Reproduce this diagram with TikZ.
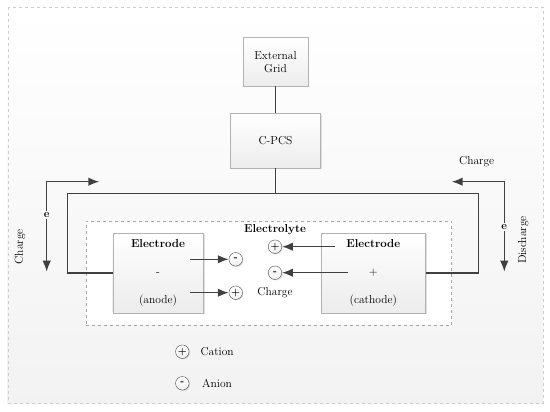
\documentclass[tikz,border=0pt]{standalone}
\usepackage{tikz}
\usetikzlibrary{shapes,arrows.meta,positioning,shadows}
\tikzset{
  block/.style={
    rectangle,
    draw=gray!60,
    top color=white,
    bottom color=gray!15,
    drop shadow={opacity=0.25,shadow xshift=1.2pt,shadow yshift=-1.2pt},
    align=center,
    font=\fontsize{11.5}{13}\selectfont
  },
  ion/.style={
    circle,
    draw=black!70,
    inner sep=0pt,
    minimum size=13.5pt,
    top color=white,
    bottom color=gray!12,
    drop shadow={opacity=0.25,shadow xshift=1pt,shadow yshift=-1pt},
    font=\fontsize{10}{10}\selectfont\bfseries
  },
  lbl/.style={
    font=\fontsize{11.5}{13}\selectfont
  },
  wire/.style={
    draw=black!75,
    line width=1.5pt
  },
  arrow/.style={
    wire,
    -{Latex[length=11pt,width=8.5pt]}
  },
  twoway/.style={
    wire,
    {Latex[length=11pt,width=8.5pt]}-{Latex[length=11pt,width=8.5pt]}
  }
}

\begin{document}
\begin{tikzpicture}[x=1pt,y=-1pt]
\useasboundingbox (0,0) rectangle (550,412);

% frame
\draw[gray!40, dashed, top color=white, bottom color=gray!10] (7.7,7.3) rectangle (543,403);

\node[block, minimum width=65pt, minimum height=48.7pt] (grid) at (275.5,61.7) {External\\Grid};
\node[block, minimum width=90pt, minimum height=54.4pt, below=27pt of grid] (cpcs) {C-PCS};

% electrolyte
\node[draw=gray!70, dashed, fill=white, minimum width=365.7pt, minimum height=104.3pt] (elyte) at (268.8,272.9) {};
\node[lbl, font=\fontsize{11.5}{13}\selectfont\bfseries] (elabel) at (275,230) {Electrolyte};

\node[block, minimum width=90.6pt, minimum height=79.4pt] (anode) at (158,273)
  {\textbf{Electrode}\\[15pt]-\\[15pt](anode)};
\node[block, minimum width=104.7pt, minimum height=79.4pt] (cathode) at (373.3,273)
  {\textbf{Electrode}\\[15pt]+\\[15pt](cathode)};

% ions
\node[ion] (an1) at (235.7,259.3) {-};
\node[ion] (ca1) at (235.7,292.7) {+};
\node[ion] (ca2) at (275,246.7) {+};
\node[ion] (an2) at (275,272.7) {-};
\node[lbl] (chg) at (275,292.7) {Charge};

\coordinate (s1) at (190,259.3);
\coordinate (s2) at (190,292.7);
\coordinate (s3) at (335,246.7);
\coordinate (s4) at (348.3,272.7);
\draw[arrow] (s1) -- (an1);
\draw[arrow] (s2) -- (ca1);
\draw[arrow] (s3) -- (ca2);
\draw[arrow] (s4) -- (an2);

% circuit
\coordinate (lc) at (67.7,193.3);
\coordinate (rc) at (478.3,193.3);
\draw[wire] (grid) -- (cpcs);
\draw[wire] (cpcs) -- (cpcs |- lc);
\draw[wire] (anode.west) -| (lc) -- (rc) |- (cathode.east);

% electron flow
\coordinate (l1) at (99.3,181.7);
\coordinate (l2) at (46.7,271.7);
\coordinate (r1) at (451.7,181.7);
\coordinate (r2) at (504.3,271.7);
\draw[twoway] (l1) -| (l2);
\draw[twoway] (r1) -| (r2);
\node[font=\fontsize{11}{12}\selectfont\bfseries, fill=gray!4, inner sep=1.5pt] (el) at (46.7,215) {e};
\node[font=\fontsize{11}{12}\selectfont\bfseries, fill=gray!4, inner sep=1.5pt] (er) at (504.3,227.3) {e};

\node[lbl, rotate=90] (lchg) at (20,246.7) {Charge};
\node[lbl, rotate=90] (rdis) at (523.3,240) {Discharge};
\node[lbl] (rchg) at (476.7,161.7) {Charge};

% legend
\node[ion] (legca) at (182.3,351.7) {+};
\node[ion] (legan) at (182.3,383.3) {-};
\node[lbl, anchor=west] (tca) at (197,351.7) {Cation};
\node[lbl, anchor=west] (tan) at (198.7,383.3) {Anion};

\end{tikzpicture}
\end{document}
